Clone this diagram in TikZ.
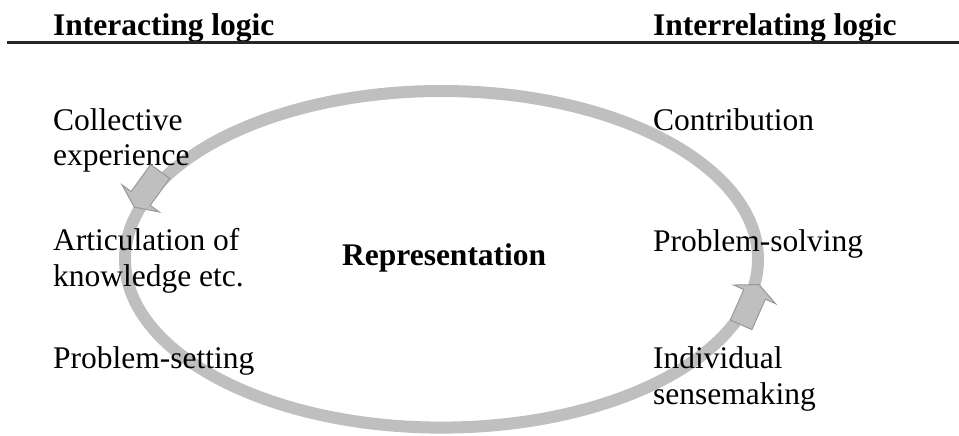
\documentclass[tikz,border=0pt]{standalone}
\usepackage{fontspec}
\setmainfont{Liberation Serif}
\usetikzlibrary{shapes.arrows}

\definecolor{loopgray}{HTML}{BFBFBF}
\definecolor{edgegray}{HTML}{989898}

\begin{document}
\begin{tikzpicture}[x=0.5pt, y=-0.5pt,
    every node/.style={inner sep=0pt, anchor=base west, align=left,
      font=\fontsize{15.75}{17.85}\selectfont},
    heading/.style={font=\fontsize{15.75}{17.85}\selectfont\bfseries},
    cycleline/.style={draw=loopgray, line width=6pt},
    flowarrow/.style={single arrow, fill=loopgray, draw=edgegray, line width=0.5pt,
      anchor=center, inner sep=5.65pt, minimum height=22pt,
      single arrow head extend=5.6pt, single arrow tip angle=130}]
        \useasboundingbox (0,0) rectangle (959,435);

        \node[heading] (interacting) at (52.7,35) {Interacting logic};
        \node[heading] (interrelating) at (652.7,35) {Interrelating logic};
        \coordinate (rule west) at (7,42.5);
        \coordinate (rule east) at (959,42.5);
        \draw[line width=1.1pt, black!85] (rule west) -- (rule east);

        \draw[cycleline] (441.5,259.3) ellipse [x radius=316.5, y radius=168.3];

        % two-line nodes sit on the baseline of their last line
        \node (collective) at (52.7,165.7) {Collective\\experience};
        \node (articulation) at (52.7,286) {Articulation of\\knowledge etc.};
        \node (setting) at (52.7,368.3) {Problem-setting};
        \node[heading] (representation) at (341.7,265) {Representation};
        \node (contribution) at (652.7,130.7) {Contribution};
        \node (solving) at (652.7,251.7) {Problem-solving};
        \node (sensemaking) at (652.7,404) {Individual\\sensemaking};

        \node[flowarrow, rotate=234] (arrowleft) at (148.9,187.1) {};
        \node[flowarrow, rotate=66] (arrowright) at (748.9,307.2) {};
      \end{tikzpicture}
\end{document}
